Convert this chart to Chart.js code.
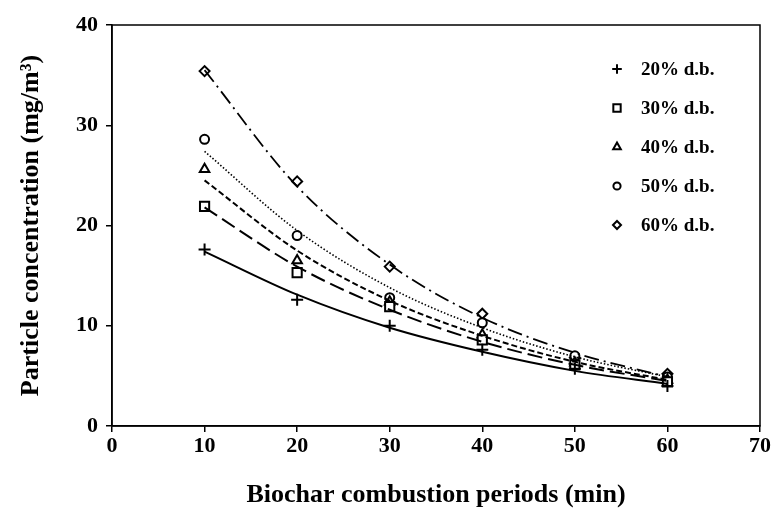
<!DOCTYPE html>
<html>
<head>
    <title>Particle concentration vs combustion period</title>
    <style>
        body { margin: 0; background: #fff; }
        #chart-container { width: 781px; height: 514px; }
    </style>
</head>
<body>
    <div id="chart-container">
        <canvas id="myChart" width="781" height="514"></canvas>
    </div>

    <script src="https://cdn.jsdelivr.net/npm/chart.js"></script>
    <script>
        // Combustion periods (min)
        const periods = [10, 20, 30, 40, 50, 60];
        const seriesLabels = ['20% d.b.', '30% d.b.', '40% d.b.', '50% d.b.', '60% d.b.'];

        // Measured particle concentration (mg/m3)
        const conc20 = [17.6, 12.6, 10.0, 7.6, 5.7, 4.0];
        const conc30 = [21.9, 15.3, 11.9, 8.6, 6.1, 4.4];
        const conc40 = [25.6, 16.5, 12.4, 9.1, 6.3, 4.6];
        const conc50 = [28.6, 19.0, 12.8, 10.3, 7.0, 4.9];
        const conc60 = [35.4, 24.4, 15.9, 11.2, 6.8, 5.2];

        // Trend curve values at the same periods
        const trend20 = [17.4, 13.1, 9.8, 7.4, 5.5, 4.2];
        const trend30 = [21.8, 15.9, 11.6, 8.4, 6.1, 4.5];
        const trend40 = [24.5, 17.5, 12.5, 9.0, 6.4, 4.6];
        const trend50 = [27.4, 19.5, 13.8, 9.8, 6.9, 4.9];
        const trend60 = [35.5, 23.9, 16.1, 10.8, 7.3, 4.9];

        const measured = [conc20, conc30, conc40, conc50, conc60];
        const trends = [trend20, trend30, trend40, trend50, trend60];

        const markerStyles = ['cross', 'rect', 'triangle', 'circle', 'rectRot'];
        const markerRadius = [6, 6.5, 5.5, 4.5, 5];
        const lineDashes = [[], [15, 6], [6, 3], [1.5, 2], [15, 5, 2, 5]];
        const lineWidths = [2, 2, 2, 1.6, 1.8];

        const toPoints = values => values.map((v, i) => ({ x: periods[i], y: v }));

        const datasets = [];
        trends.forEach((values, i) => {
            datasets.push({
                label: seriesLabels[i] + ' trend',
                data: toPoints(values),
                showLine: true,
                borderColor: '#000',
                borderWidth: lineWidths[i],
                borderDash: lineDashes[i],
                cubicInterpolationMode: 'monotone',
                pointRadius: 0,
                fill: false
            });
        });
        measured.forEach((values, i) => {
            datasets.push({
                label: seriesLabels[i],
                data: toPoints(values),
                showLine: false,
                pointStyle: markerStyles[i],
                pointRadius: markerRadius[i],
                pointBorderWidth: 2,
                pointBorderColor: '#000',
                pointBackgroundColor: '#fff',
                borderColor: '#000'
            });
        });

        const serif = "'Liberation Serif', 'Times New Roman', serif";

        // Frame around the plot area (top and right sides)
        const framePlugin = {
            id: 'frame',
            afterDatasetsDraw(chart) {
                const a = chart.chartArea;
                const ctx = chart.ctx;
                ctx.save();
                ctx.strokeStyle = '#000';
                ctx.lineWidth = 1.5;
                ctx.strokeRect(a.left, a.top, a.right - a.left, a.bottom - a.top);
                ctx.restore();
            }
        };

        // Legend drawn inside the plot, top right
        const innerLegend = {
            id: 'innerLegend',
            afterDraw(chart) {
                const ctx = chart.ctx;
                const a = chart.chartArea;
                const markX = a.right - 143;
                const textX = a.right - 119;
                ctx.save();
                ctx.font = 'bold 19px ' + serif;
                ctx.textBaseline = 'middle';
                seriesLabels.forEach((label, i) => {
                    const y = a.top + 44 + i * 39;
                    ctx.strokeStyle = '#000';
                    ctx.fillStyle = '#fff';
                    ctx.lineWidth = 2;
                    Chart.helpers.drawPoint(ctx, {
                        pointStyle: markerStyles[i],
                        radius: markerRadius[i] * 0.8,
                        borderWidth: 2.2
                    }, markX, y);
                    ctx.fillStyle = '#000';
                    ctx.fillText(label, textX, y + 1);
                });
                ctx.restore();
            }
        };

        const ctx = document.getElementById('myChart').getContext('2d');
        const myChart = new Chart(ctx, {
            type: 'scatter',
            data: { datasets: datasets },
            options: {
                responsive: false,
                animation: false,
                layout: { padding: { top: 25, right: 21, left: 0, bottom: 0 } },
                plugins: {
                    legend: { display: false },
                    tooltip: { enabled: false }
                },
                scales: {
                    x: {
                        type: 'linear',
                        min: 0,
                        max: 70,
                        afterFit(scale) { scale.height = 88; },
                        ticks: {
                            stepSize: 10,
                            padding: 1,
                            color: '#000',
                            font: { family: serif, size: 22, weight: 'bold' }
                        },
                        grid: {
                            drawOnChartArea: false,
                            drawTicks: true,
                            tickLength: 6,
                            color: '#000',
                            lineWidth: 1.5
                        },
                        border: { color: '#000', width: 1.5 },
                        title: {
                            display: true,
                            text: 'Biochar combustion periods (min)',
                            color: '#000',
                            font: { family: serif, size: 26, weight: 'bold' },
                            padding: { top: 0, bottom: 3 }
                        }
                    },
                    y: {
                        min: 0,
                        max: 40,
                        afterFit(scale) { scale.width = 112; },
                        ticks: {
                            stepSize: 10,
                            padding: 8,
                            color: '#000',
                            font: { family: serif, size: 22, weight: 'bold' }
                        },
                        grid: {
                            drawOnChartArea: false,
                            drawTicks: true,
                            tickLength: 6,
                            color: '#000',
                            lineWidth: 1.5
                        },
                        border: { color: '#000', width: 1.5 },
                        title: {
                            display: true,
                            text: 'Particle concentration (mg/m³)',
                            color: '#000',
                            font: { family: serif, size: 26, weight: 'bold' },
                            padding: { top: 16, bottom: 0 }
                        }
                    }
                }
            },
            plugins: [framePlugin, innerLegend]
        });
    </script>
</body>
</html>
